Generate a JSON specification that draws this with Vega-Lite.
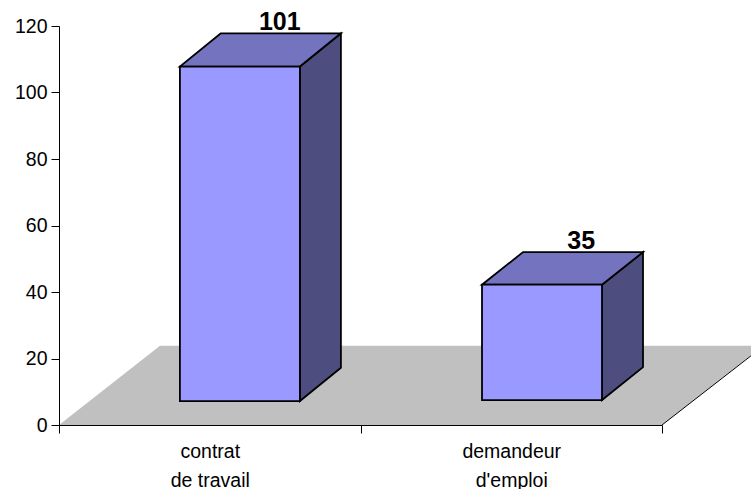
{
"$schema":"https://vega.github.io/schema/vega-lite/v6.json",
"width":603,"height":399,
"autosize":{"type":"none"},
"padding":{"left":59,"top":26,"right":89,"bottom":64},
"background":"white",
"config":{"view":{"stroke":null},"font":"Liberation Sans"},
"datasets":{
"floor":[{"level":0,"left":0,"right":2},{"level":23.8,"left":0.335,"right":2.335}],
"floorEdge":[{"pos":2,"level":0},{"pos":2.295,"level":20.8}],
"front":[{"category":"contrat de travail","left":0.401,"right":0.799,"bottom":7.2,"top":107.8},{"category":"demandeur d'emploi","left":1.403,"right":1.801,"bottom":7.5,"top":42.2}],
"top":[
{"category":"contrat de travail","level":107.8,"left":0.401,"right":0.799},
{"category":"contrat de travail","level":117.8,"left":0.537,"right":0.935},
{"category":"demandeur d'emploi","level":42.2,"left":1.403,"right":1.801},
{"category":"demandeur d'emploi","level":52,"left":1.539,"right":1.937}],
"side":[
{"category":"contrat de travail","pos":0.799,"upper":107.8,"lower":7.2},
{"category":"contrat de travail","pos":0.935,"upper":117.8,"lower":17.2},
{"category":"demandeur d'emploi","pos":1.801,"upper":42.2,"lower":7.5},
{"category":"demandeur d'emploi","pos":1.937,"upper":52,"lower":17.4}],
"values":[{"category":"contrat de travail","value":101},{"category":"demandeur d'emploi","value":35}]
},
"resolve":{"scale":{"x":"independent"}},
"layer":[
{"data":{"name":"floor"},
 "mark":{"type":"area","orient":"horizontal","color":"#C0C0C0"},
 "encoding":{
  "y":{"field":"level","type":"quantitative","scale":{"domain":[0,120],"nice":false},
   "axis":{"title":null,"values":[0,20,40,60,80,100,120],"tickSize":8,"tickColor":"black","domainColor":"black","labelFontSize":19.5,"labelColor":"black","labelPadding":4,"zindex":1,"grid":false}},
  "x":{"field":"left","type":"quantitative","scale":{"domain":[0,2],"nice":false,"zero":false},"axis":null},
  "x2":{"field":"right"}}},
{"data":{"name":"floorEdge"},
 "mark":{"type":"line","color":"black","strokeWidth":1,"clip":false},
 "encoding":{
  "y":{"field":"level","type":"quantitative"},
  "x":{"field":"pos","type":"quantitative","scale":{"domain":[0,2],"nice":false,"zero":false},"axis":null}}},
{"data":{"name":"side"},
 "mark":{"type":"area","orient":"vertical","color":"#4D4D80","stroke":"black","strokeWidth":1.8},
 "encoding":{
  "detail":{"field":"category"},
  "x":{"field":"pos","type":"quantitative","scale":{"domain":[0,2],"nice":false,"zero":false},"axis":null},
  "y":{"field":"upper","type":"quantitative"},
  "y2":{"field":"lower"}}},
{"data":{"name":"top"},
 "mark":{"type":"area","orient":"horizontal","color":"#7373BF","stroke":"black","strokeWidth":1.8},
 "encoding":{
  "detail":{"field":"category"},
  "y":{"field":"level","type":"quantitative"},
  "x":{"field":"left","type":"quantitative","scale":{"domain":[0,2],"nice":false,"zero":false},"axis":null},
  "x2":{"field":"right"}}},
{"data":{"name":"front"},
 "mark":{"type":"rect","color":"#9999FF","stroke":"black","strokeWidth":1.8},
 "encoding":{
  "x":{"field":"left","type":"quantitative","scale":{"domain":[0,2],"nice":false,"zero":false},"axis":null},
  "x2":{"field":"right"},
  "y":{"field":"bottom","type":"quantitative"},
  "y2":{"field":"top"}}},
{"data":{"name":"values"},
 "mark":{"type":"text","font":"Liberation Sans","fontWeight":"bold","fontSize":25,"color":"black","dx":70,"dy":-59.5,"baseline":"alphabetic","align":"center"},
 "encoding":{
  "x":{"field":"category","type":"nominal","sort":null,"scale":{"paddingInner":0,"paddingOuter":0},
   "axis":{"title":null,"labelAngle":0,"tickBand":"extent","tickSize":8,"tickColor":"black","domainColor":"black","labelFontSize":19.5,"labelColor":"black","labelPadding":9,"labelLineHeight":29,"labelExpr":"datum.value=='contrat de travail'?['contrat','de travail']:datum.value==\"demandeur d'emploi\"?['demandeur',\"d'emploi\"]:''","zindex":1,"grid":false}},
  "y":{"field":"value","type":"quantitative"},
  "text":{"field":"value","type":"quantitative"}}}
]
}
